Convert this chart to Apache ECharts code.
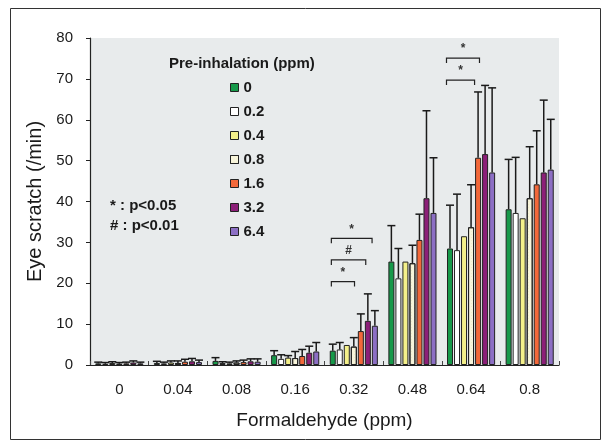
<!DOCTYPE html>
<html>
<head>
<meta charset="utf-8">
<script src="https://cdn.jsdelivr.net/npm/echarts@6/dist/echarts.min.js"></script>
<style>
  html, body { margin: 0; padding: 0; background: #fff; }
  #main { width: 612px; height: 445px; }
</style>
</head>
<body>
<div id="main"></div>
<script>
  // formaldehyde challenge concentrations (x categories)
  const categories = ['0', '0.04', '0.08', '0.16', '0.32', '0.48', '0.64', '0.8']
  // pre-inhalation groups (legend)
  const preDoses = ['0', '0.2', '0.4', '0.8', '1.6', '3.2', '6.4']
  const yTicks = [0, 10, 20, 30, 40, 50, 60, 70, 80]

  // means per pre-inhalation group, one value per category
  const mean0 = [0.4, 0.5, 1.0, 2.4, 3.5, 25.3, 28.5, 38.1]
  const mean02 = [0.3, 0.4, 0.5, 1.5, 3.8, 21.2, 28.1, 37.2]
  const mean04 = [0.5, 0.6, 0.4, 1.8, 4.9, 25.3, 31.5, 35.9]
  const mean08 = [0.3, 0.5, 0.6, 1.7, 4.5, 24.9, 33.7, 40.8]
  const mean16 = [0.4, 0.8, 0.7, 2.2, 8.3, 30.6, 50.7, 44.2]
  const mean32 = [0.6, 0.9, 0.9, 3.0, 10.8, 40.8, 51.6, 47.1]
  const mean64 = [0.4, 0.7, 0.8, 3.3, 9.6, 37.2, 47.1, 47.8]

  // SD (upper error bars only)
  const sd0 = [0.3, 0.4, 0.8, 1.1, 1.6, 8.8, 10.6, 12.2]
  const sd02 = [0.3, 0.3, 0.3, 1.0, 1.7, 7.3, 13.7, 13.6]
  const sd04 = [0.3, 0.4, 0.3, 0.5, 0, 0, 0, 0]
  const sd08 = [0.3, 0.5, 0.4, 1.6, 2.2, 4.4, 10.4, 12.6]
  const sd16 = [0.3, 0.6, 0.5, 1.6, 4.2, 6.3, 16.1, 13.1]
  const sd32 = [0.4, 0.7, 0.6, 1.6, 6.6, 21.4, 16.8, 17.7]
  const sd64 = [0.3, 0.5, 0.7, 2.2, 3.7, 13.5, 20.7, 12.3]

  // significance brackets (category index, bar index from/to, height, mark)
  const bracketCat = [4, 4, 4, 6, 6]
  const bracketFrom = [-0.2, -0.2, -0.2, -0.5, -0.5]
  const bracketTo = [3.1, 4.7, 5.6, 3.5, 4.2]
  const bracketY = [20.4, 25.7, 31.0, 69.7, 75.1]
  const bracketMark = ['*', '#', '*', '*', '*']

  const means = [mean0, mean02, mean04, mean08, mean16, mean32, mean64]
  const sds = [sd0, sd02, sd04, sd08, sd16, sd32, sd64]
  const colors = ['#17994a', '#ffffff', '#f4f08a', '#f8f5dc', '#f2683a', '#8c1f78', '#8c6fc4']

  const BAR_W = 6
  const GAP = 1.02
  const N = preDoses.length
  const total = N * BAR_W + (N - 1) * GAP
  function barOffset (i) {
    return -total / 2 + i * (BAR_W + GAP) + BAR_W / 2
  }

  const font = '"Liberation Sans", Arial, sans-serif'
  const ink = '#1a1a1a'

  const barSeries = preDoses.map((name, i) => {
    const s = {
      name: name,
      type: 'bar',
      data: means[i],
      barWidth: BAR_W,
      barGap: '17%',
      itemStyle: { color: colors[i], borderColor: '#222', borderWidth: 1 }
    }
    if (name === '0.8') {
      s.itemStyle.decal = {
        symbol: 'rect', symbolSize: 0.6, color: 'rgba(215,200,120,0.55)',
        dashArrayX: [1, 2], dashArrayY: [1, 2]
      }
    }
    return s
  })

  const errData = []
  means.forEach((m, s) => {
    m.forEach((v, c) => {
      errData.push([c, v + sds[s][c], v, sds[s][c], s])
    })
  })

  const bracketData = bracketCat.map((c, k) => [c, bracketY[k], bracketFrom[k], bracketTo[k], bracketMark[k]])

  const myChart = echarts.init(document.getElementById('main'))
  myChart.setOption({
    animation: false,
    backgroundColor: '#ffffff',
    textStyle: { fontFamily: font },
    grid: {
      left: 90, right: 53, top: 38, bottom: 80,
      show: true, backgroundColor: '#e8ebec', borderWidth: 0
    },
    legend: {
      orient: 'vertical',
      left: 225, top: 74,
      itemWidth: 8, itemHeight: 8, itemGap: 7,
      icon: 'rect',
      data: preDoses,
      itemStyle: { borderColor: '#222', borderWidth: 1 },
      textStyle: { fontFamily: font, fontSize: 15, fontWeight: 'bold', color: ink, lineHeight: 17 }
    },
    xAxis: {
      type: 'category',
      data: categories,
      name: 'Formaldehyde (ppm)',
      nameLocation: 'middle',
      nameGap: 46,
      nameTextStyle: { fontSize: 19, color: ink, fontFamily: font },
      axisLine: { lineStyle: { color: '#222', width: 1.2 } },
      axisTick: { show: true, inside: true, length: 4, lineStyle: { color: '#444' } },
      axisLabel: { fontSize: 15, color: ink, margin: 17, fontFamily: font },
      splitLine: { show: false }
    },
    yAxis: {
      type: 'value',
      min: yTicks[0], max: yTicks[yTicks.length - 1], interval: 10,
      name: 'Eye scratch (/min)',
      nameLocation: 'middle',
      nameGap: 44,
      nameTextStyle: { fontSize: 20, color: ink, fontFamily: font },
      axisLine: { show: true, lineStyle: { color: '#222', width: 1.2 } },
      axisTick: { show: true, length: 4, lineStyle: { color: '#222' } },
      axisLabel: { fontSize: 15, color: ink, margin: 17, fontFamily: font },
      splitLine: { show: false }
    },
    graphic: [
      {
        type: 'rect', z: -1, silent: true,
        shape: { x: 10.5, y: 8.5, width: 590, height: 431 },
        style: { fill: 'none', stroke: '#333', lineWidth: 1 }
      },
      {
        type: 'text', left: 169, top: 56,
        style: { text: 'Pre-inhalation (ppm)', font: 'bold 15px ' + font, fill: ink }
      },
      {
        type: 'text', left: 110, top: 198,
        style: { text: '* : p<0.05', font: 'bold 15px ' + font, fill: ink }
      },
      {
        type: 'text', left: 110, top: 218,
        style: { text: '# : p<0.01', font: 'bold 15px ' + font, fill: ink }
      }
    ],
    series: barSeries.concat([
      {
        type: 'custom',
        name: 'err',
        z: 5,
        data: errData,
        encode: { x: 0, y: 1 },
        renderItem: function (params, api) {
          const sd = api.value(3)
          if (!sd) return null
          const base = api.coord([api.value(0), api.value(2)])
          const top = api.coord([api.value(0), api.value(1)])
          const x = base[0] + barOffset(api.value(4))
          const st = { stroke: '#1a1a1a', lineWidth: 1.5 }
          return {
            type: 'group',
            children: [
              { type: 'line', shape: { x1: x, y1: base[1], x2: x, y2: top[1] }, style: st },
              { type: 'line', shape: { x1: x - 4, y1: top[1], x2: x + 4, y2: top[1] }, style: st }
            ]
          }
        }
      },
      {
        type: 'custom',
        name: 'sig',
        z: 6,
        data: bracketData,
        encode: { x: 0, y: 1 },
        renderItem: function (params, api) {
          const p = api.coord([api.value(0), api.value(1)])
          const x1 = p[0] + barOffset(api.value(2))
          const x2 = p[0] + barOffset(api.value(3))
          const y = p[1]
          return {
            type: 'group',
            children: [
              {
                type: 'polyline',
                shape: { points: [[x1, y + 5], [x1, y], [x2, y], [x2, y + 5]] },
                style: { stroke: '#222', lineWidth: 1.2, fill: 'none' }
              },
              {
                type: 'text',
                style: {
                  x: (x1 + x2) / 2, y: y - 3,
                  text: bracketData[params.dataIndex][4],
                  align: 'center', verticalAlign: 'bottom',
                  font: 'bold 12px ' + font, fill: '#333'
                }
              }
            ]
          }
        }
      }
    ])
  })
</script>
</body>
</html>
